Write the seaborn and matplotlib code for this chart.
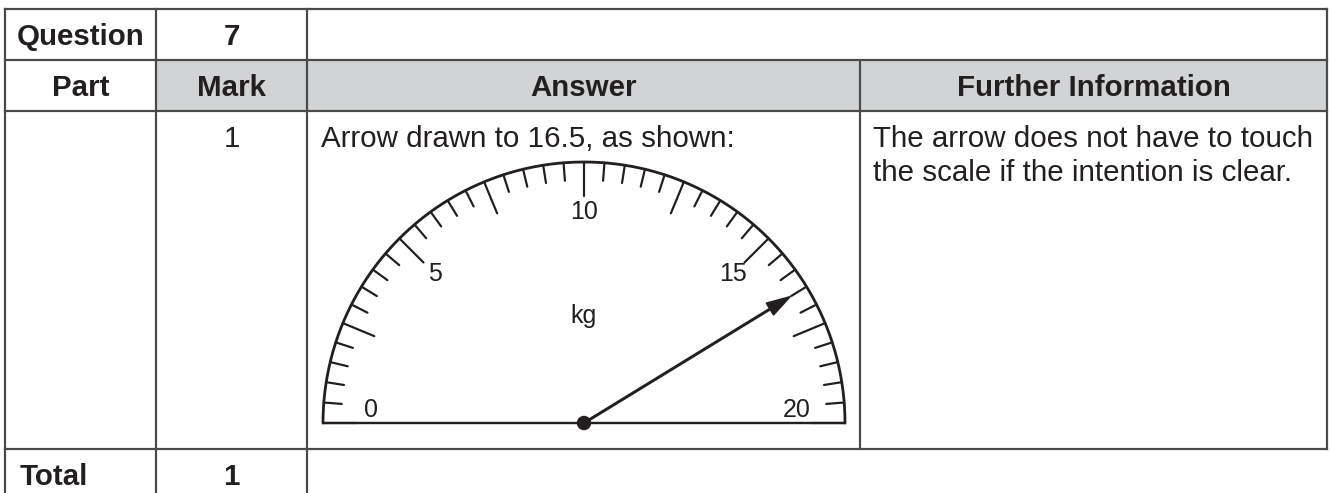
import numpy as np
import matplotlib
matplotlib.use("Agg")
import matplotlib.pyplot as plt
import seaborn as sns
from matplotlib.patches import Circle, Rectangle

# ---------------- data ----------------
header_row1 = ["Question", "7"]
header_row2 = ["Part", "Mark", "Answer", "Further Information"]
mark_value = "1"
answer_text = "Arrow drawn to 16.5, as shown:"
further_info = ["The arrow does not have to touch", "the scale if the intention is clear."]
total_label = ["Total", "1"]

scale_min, scale_max = 0.0, 20.0
tick_values = np.arange(0, 41) * 0.5           # ticks every 0.5 kg
major_values = [0, 2.5, 5, 7.5, 10, 12.5, 15, 17.5, 20]
label_values = [0, 5, 10, 15, 20]
label_texts = ["0", "5", "10", "15", "20"]
unit_label = "kg"
arrow_value = 16.5

# ---------------- style ----------------
sns.set_theme(style="white")
plt.rcParams["font.family"] = ["Liberation Sans", "DejaVu Sans"]

W, H = 1330, 493
fig = plt.figure(figsize=(W / 100, H / 100), dpi=100)
ax = fig.add_axes([0, 0, 1, 1])
ax.set_xlim(0, W)
ax.set_ylim(H, 0)
ax.axis("off")

PX = 0.72  # points per pixel
line_c = "#4a4a4a"
gray = "#d1d3d4"
txt_c = "#231f20"

# table geometry (pixels)
cols = [5, 156, 307, 860, 1327]
rows = [9, 60, 111, 449, 493]

ax.add_patch(Rectangle((cols[1], rows[1]), cols[4] - cols[1], rows[2] - rows[1],
                       facecolor=gray, edgecolor="none", zorder=0))

tlw = 2.2 * PX
for y in rows[:4]:
    ax.plot([cols[0], cols[4]], [y, y], color=line_c, lw=tlw, solid_capstyle="projecting")
for x in cols[:3]:
    ax.plot([x, x], [rows[0], rows[4]], color=line_c, lw=tlw, solid_capstyle="projecting")
ax.plot([cols[3], cols[3]], [rows[1], rows[3]], color=line_c, lw=tlw)
ax.plot([cols[4], cols[4]], [rows[0], rows[3]], color=line_c, lw=tlw, solid_capstyle="projecting")

fs = 29.5 * PX
bold = dict(fontsize=fs, fontweight="bold", color=txt_c)
reg = dict(fontsize=fs, color=txt_c)

ax.text((cols[0] + cols[1]) / 2, 45, header_row1[0], ha="center", va="baseline", **bold)
ax.text((cols[1] + cols[2]) / 2, 45, header_row1[1], ha="center", va="baseline", **bold)
for i, t in enumerate(header_row2):
    ax.text((cols[i] + cols[i + 1]) / 2, 96, t, ha="center", va="baseline", **bold)

ax.text((cols[1] + cols[2]) / 2, 147, mark_value, ha="center", va="baseline", **reg)
ax.text(321, 147, answer_text, ha="left", va="baseline", **reg)
ax.text(873, 147, further_info[0], ha="left", va="baseline", **reg)
ax.text(873, 181, further_info[1], ha="left", va="baseline", **reg)

ax.text(20, 485, total_label[0], ha="left", va="baseline", **bold)
ax.text((cols[1] + cols[2]) / 2, 485, total_label[1], ha="center", va="baseline", **bold)

# ---------------- gauge ----------------
cx, cy, R = 584, 423, 261
def ang(v):
    return np.pi * (1 - (v - scale_min) / (scale_max - scale_min))

gc = "#231f20"
th = np.linspace(0, np.pi, 400)
ax.plot(cx + R * np.cos(th), cy - R * np.sin(th), color=gc, lw=2.8 * PX, zorder=3)
ax.plot([cx - R, cx + R], [cy, cy], color=gc, lw=2.4 * PX, zorder=3)

for v in tick_values:
    L = 34 if v in major_values else 18
    a = ang(v)
    ax.plot([cx + R * np.cos(a), cx + (R - L) * np.cos(a)],
            [cy - R * np.sin(a), cy - (R - L) * np.sin(a)],
            color=gc, lw=2.2 * PX, zorder=3)

lfs = 25 * PX
for v, t in zip(label_values, label_texts):
    a = ang(v)
    r = 211
    x = cx + r * np.cos(a)
    y = cy - r * np.sin(a)
    if v in (scale_min, scale_max):
        x = cx + 213 * np.cos(a)
        y = 410
    ax.text(x, y, t, ha="center", va="center", fontsize=lfs, color=gc)
ax.text(cx, 316, unit_label, ha="center", va="center", fontsize=lfs, color=gc)

a = ang(arrow_value)
r_tip = 242
ax.arrow(cx, cy, r_tip * np.cos(a), -r_tip * np.sin(a), length_includes_head=True,
         width=1.6, head_width=14, head_length=24, color=gc, zorder=4)
ax.add_patch(Circle((cx, cy), 6.5, color=gc, zorder=5))

fig.savefig("out.png", dpi=100, facecolor="white")
